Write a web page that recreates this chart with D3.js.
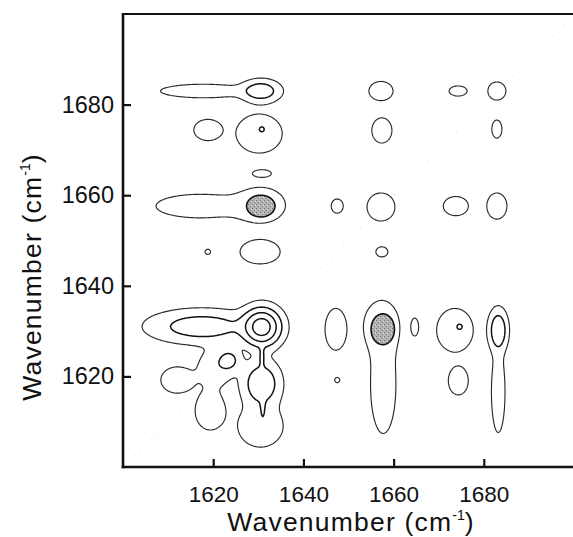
<!DOCTYPE html>
<html><head><meta charset="utf-8">
<script src="https://cdn.jsdelivr.net/npm/d3@7"></script>
<style>body{margin:0;background:#fff}svg{display:block}</style>
</head><body><svg id="c" width="573" height="537"></svg>
<script>
// ---- data (wavenumbers, cm-1) ----
const domain = [1600, 1700];
const xTicks = [1620, 1640, 1660, 1680];
const yTicks = [1620, 1640, 1660, 1680];
const levels = [1, 2, 3, 4];
const shadeLevel = [1];
// contour peaks: centre (x,y), height, spread (x,y)
const peakName = ["A","Atail","B","C","D","E","F","Fdot","G","H","I","J","Jtail","K","L","M","N","O","P","Q",
  "R","X","Shead","Scol","T","U","Udot","W","Vhead","Vcol","H0","T1","NB","V1","V2","B1","BL","M1","F1","Y"];
const peakX = [1630.6,1617.8,1657.2,1674.3,1682.9,1618.8,1630.2,1630.8,1657.4,1682.9,1630.8,1630.5,1617.0,1647.5,1657.2,1673.8,1682.9,1618.8,1630.4,1657.4,
  1647.2,1647.5,1657.3,1657.7,1664.7,1673.6,1674.7,1674.35,1683.2,1683.2,1630.8,1617.5,1630.8,1630.7,1631.0,1630.5,1619.3,1612.0,1620.5,1623.6];
const peakY = [1683.0,1683.0,1683.0,1683.0,1683.0,1674.4,1673.6,1674.6,1674.3,1674.6,1664.8,1657.8,1657.6,1657.6,1657.4,1657.6,1657.6,1647.5,1647.5,1647.5,
  1630.4,1619.2,1631.0,1618.0,1630.9,1630.2,1631.0,1619.0,1630.2,1616.6,1630.9,1631.0,1624.4,1618.4,1613.0,1609.0,1612.4,1619.2,1622.0,1623.6];
const peakAmp = [2.68,1.7,1.7,1.7,1.7,1.7,1.7,1.55,1.7,1.7,1.7,1.7,1.7,1.7,1.7,1.7,1.7,1.7,1.7,1.7,
  1.7,1.7,1.7,1.7,1.7,1.7,1.6,1.7,2.89,1.7,4.54,2.6,1.9,2.9,1.55,1.7,1.7,1.7,1.7,2.2];
const peakSx = [3.49,9.2,2.59,1.94,1.94,3.0,4.95,0.7,2.16,1.08,1.94,5.24,9.4,1.29,3.0,2.7,2.16,0.6,4.31,1.29,
  2.33,0.55,3.79,2.72,0.8,3.94,0.75,2.14,1.72,1.46,3.4,9.6,0.7,3.4,0.6,4.85,3.2,3.5,3.6,2.17];
const peakSy = [2.03,1.45,2.05,1.08,1.94,2.26,4.17,0.7,2.7,1.94,0.76,3.79,2.52,1.51,3.0,2.05,2.8,0.55,2.59,1.08,
  4.47,0.55,5.34,10.3,1.86,4.66,0.75,3.0,3.7,8.74,3.4,3.0,2.0,4.1,2.5,4.47,4.08,2.8,3.8,2.17];
// shaded (filled) regions: centre and half-widths
const shadeX = [1630.55, 1657.6];
const shadeY = [1657.6, 1630.4];
const shadeRx = [3.15, 2.6];
const shadeRy = [2.4, 3.4];

// ---- layout ----
const x = d3.scaleLinear().domain(domain).range([123, 574]);
const y = d3.scaleLinear().domain(domain).range([467, 14]);
const svg = d3.select("#c");
const FONT = "'Liberation Sans', Arial, Helvetica, sans-serif";

const step = 0.25, n = Math.round((domain[1] - domain[0]) / step) + 1;
function buildField(cx, cy, amp, sx, sy) {
  const acc = new Float64Array(n * n);
  for (let k = 0; k < cx.length; k++) {
    const i0 = Math.max(0, Math.floor((cx[k] - 5 * sx[k] - domain[0]) / step));
    const i1 = Math.min(n - 1, Math.ceil((cx[k] + 5 * sx[k] - domain[0]) / step));
    const j0 = Math.max(0, Math.floor((cy[k] - 5 * sy[k] - domain[0]) / step));
    const j1 = Math.min(n - 1, Math.ceil((cy[k] + 5 * sy[k] - domain[0]) / step));
    for (let j = j0; j <= j1; j++) {
      const dy = (domain[0] + j * step - cy[k]) / sy[k];
      for (let i = i0; i <= i1; i++) {
        const dx = (domain[0] + i * step - cx[k]) / sx[k];
        const v = amp[k] * Math.exp(-0.5 * (dx * dx + dy * dy));
        acc[j * n + i] += v * v;
      }
    }
  }
  for (let i = 0; i < acc.length; i++) acc[i] = Math.sqrt(acc[i]);
  return acc;
}
const proj = d3.geoTransform({
  point: function (gx, gy) {
    this.stream.point(x(domain[0] + (gx - 0.5) * step), y(domain[0] + (gy - 0.5) * step));
  }
});
const path = d3.geoPath(proj);

// diagonal
svg.append("line")
  .attr("x1", x(1600)).attr("y1", y(1600)).attr("x2", x(1700)).attr("y2", y(1700))
  .attr("stroke", "#cfcfcf").attr("stroke-width", 1).attr("stroke-dasharray", "1 7");

// shaded regions
const k2 = Math.sqrt(2 * Math.log(2));
const shadeField = buildField(shadeX, shadeY, shadeX.map(() => 2),
  shadeRx.map(r => r / k2), shadeRy.map(r => r / k2));
const defs = svg.append("defs");
const pat = defs.append("pattern").attr("id", "stip").attr("width", 4).attr("height", 4)
  .attr("patternUnits", "userSpaceOnUse");
pat.append("rect").attr("width", 4).attr("height", 4).attr("fill", "#b4b4b4");
pat.append("rect").attr("x", 0).attr("y", 0).attr("width", 1).attr("height", 1).attr("fill", "#6e6e6e");
pat.append("rect").attr("x", 2).attr("y", 2).attr("width", 1).attr("height", 1).attr("fill", "#7a7a7a");
pat.append("rect").attr("x", 3).attr("y", 1).attr("width", 1).attr("height", 1).attr("fill", "#e0e0e0");
svg.append("g").selectAll("path")
  .data(d3.contours().size([n, n]).thresholds(shadeLevel)(shadeField))
  .join("path").attr("d", path)
  .attr("fill", "url(#stip)").attr("stroke", "#111").attr("stroke-width", 1.6);

// contour lines
const field = buildField(peakX, peakY, peakAmp, peakSx, peakSy);
svg.append("g").selectAll("path")
  .data(d3.contours().size([n, n]).thresholds(levels)(field))
  .join("path").attr("d", path)
  .attr("fill", "none").attr("stroke", d => d.value > 1 ? "#111" : "#2a2a2a")
  .attr("stroke-width", d => d.value > 1 ? 1.5 : 1.15).attr("stroke-linejoin", "round");

// frame: top line
svg.append("line").attr("x1", x(1600) - 1).attr("x2", 573).attr("y1", y(1700)).attr("y2", y(1700))
  .attr("stroke", "#111").attr("stroke-width", 2);

// axes
const gx = svg.append("g").attr("transform", `translate(0,${y(1600)})`)
  .call(d3.axisBottom(x).tickValues(xTicks).tickSizeInner(-8).tickSizeOuter(0).tickPadding(19).tickFormat(d3.format("d")));
const gy = svg.append("g").attr("transform", `translate(${x(1600)},0)`)
  .call(d3.axisLeft(y).tickValues(yTicks).tickSizeInner(-8).tickSizeOuter(0).tickPadding(9).tickFormat(d3.format("d")));
[gx, gy].forEach(g => {
  g.select(".domain").attr("stroke", "#111").attr("stroke-width", 2.6);
  g.selectAll(".tick line").attr("stroke", "#111").attr("stroke-width", 2.2);
  g.selectAll(".tick text").attr("font-family", FONT).attr("font-size", 22.5).attr("fill", "#111");
});
gy.selectAll(".tick text").attr("font-size", 23.5);
gx.select(".domain").attr("d", `M${x(1600) - 1.3},0H573`);
gy.select(".domain").attr("d", `M0,${y(1600) + 1.3}V${y(1700) - 1}`);

// titles
function title(sel) {
  sel.attr("font-family", FONT).attr("font-size", 26.5).attr("fill", "#111")
    .attr("text-anchor", "middle").attr("letter-spacing", 1.2);
  sel.append("tspan").text("Wavenumber (cm");
  sel.append("tspan").text("-1").attr("font-size", 14).attr("dy", -11).attr("letter-spacing", 0);
  sel.append("tspan").text(")").attr("dy", 11);
}
svg.append("text").attr("x", 351).attr("y", 531).call(title);
svg.append("text").attr("transform", "translate(41,277) rotate(-90)").call(title);
</script></body></html>
